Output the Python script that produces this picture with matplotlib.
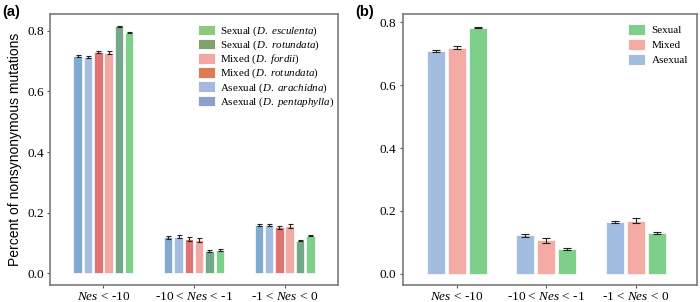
import numpy as np
from matplotlib import pyplot as plt
from matplotlib import patches

plt.rcParams['font.family'] = ['Liberation Serif', 'DejaVu Serif']
plt.rcParams['mathtext.fontset'] = 'custom'
plt.rcParams['mathtext.rm'] = 'Liberation Serif'
plt.rcParams['mathtext.it'] = 'Liberation Serif:italic'

# categories (x groups)
groups = ['$Nes$ < -10', '-10 < $Nes$ < -1', '-1 < $Nes$ < 0']

# panel (a): species-level values, bar order within group
a_labels = ['Asexual ($D.$ $pentaphylla$)', 'Asexual ($D.$ $arachidna$)',
            'Mixed ($D.$ $rotundata$)', 'Mixed ($D.$ $fordii$)',
            'Sexual ($D.$ $rotundata$)', 'Sexual ($D.$ $esculenta$)']
a_vals = [[0.716, 0.119, 0.160],
          [0.713, 0.121, 0.160],
          [0.730, 0.114, 0.152],
          [0.728, 0.110, 0.157],
          [0.814, 0.075, 0.108],
          [0.793, 0.078, 0.125]]
a_errs = [[0.004, 0.004, 0.003],
          [0.004, 0.005, 0.003],
          [0.004, 0.006, 0.005],
          [0.004, 0.006, 0.006],
          [0.002, 0.003, 0.002],
          [0.002, 0.003, 0.003]]
a_bar_colors = ['#7FAAD1', '#A3BDE0', '#E07474', '#F3A9A3', '#73A888', '#7DCF8A']
a_leg_colors = ['#8A9FCB', '#A3B9DE', '#E07A55', '#F0A8A0', '#84A06C', '#8DCB7A']

# panel (b): mating-system level
b_labels = ['Asexual', 'Mixed', 'Sexual']
b_vals = [[0.709, 0.122, 0.165],
          [0.720, 0.107, 0.169],
          [0.784, 0.080, 0.131]]
b_errs = [[0.004, 0.005, 0.004],
          [0.006, 0.008, 0.007],
          [0.002, 0.003, 0.003]]
b_colors = ['#A3BDE0', '#F3ABA3', '#7DCF8A']

yticks = [0.0, 0.2, 0.4, 0.6, 0.8]
ytick_labels = ['0.0', '0.2', '0.4', '0.6', '0.8']

fig = plt.figure(figsize=(7.0, 3.02), dpi=100)
ax1 = fig.add_axes([0.0714, 0.0563, 0.4115, 0.8973])
ax2 = fig.add_axes([0.5753, 0.0563, 0.4200, 0.8973])

x = np.arange(1, len(groups) + 1)


def style_axis(ax):
    for s in ax.spines.values():
        s.set_color('#7a7a7a')
        s.set_linewidth(1.2)
    ax.set_xticks(x)
    ax.set_xticklabels(groups, fontsize=9.5)
    ax.set_yticks(yticks)
    ax.set_yticklabels(ytick_labels, fontsize=9.5)
    ax.tick_params(axis='both', length=2.5, width=0.8, color='#555555', pad=2)


# panel (a)
w = 0.094
step = 0.114
for i in range(len(a_labels)):
    pos = x + (i - 2.5) * step
    ax1.bar(pos, a_vals[i], width=w, color=a_bar_colors[i], edgecolor='white', linewidth=0.5)
    ax1.errorbar(pos, a_vals[i], yerr=a_errs[i], fmt='none', ecolor='#222222',
                 elinewidth=0.8, capsize=1.8, capthick=0.8)
ax1.set_xlim(0.41, 3.59)
ax1.set_ylim(-0.038, 0.855)
style_axis(ax1)
ax1.set_ylabel('Percent of nonsynonymous mutations', fontsize=10,
               family=['Liberation Sans', 'DejaVu Sans'], labelpad=4)
handles = [patches.Patch(facecolor=c, edgecolor='white', linewidth=0.6) for c in a_leg_colors[::-1]]
ax1.legend(handles, a_labels[::-1], loc='upper left', bbox_to_anchor=(0.515, 0.96),
           frameon=False, fontsize=7.9, handlelength=1.52, handleheight=1.05,
           handletextpad=0.5, labelspacing=0.05, borderaxespad=0, borderpad=0)

# panel (b)
wb = 0.2
stepb = 0.235
for i in range(len(b_labels)):
    pos = x + (i - 1) * stepb
    ax2.bar(pos, b_vals[i], width=wb, color=b_colors[i], edgecolor='white', linewidth=0.5)
    ax2.errorbar(pos, b_vals[i], yerr=b_errs[i], fmt='none', ecolor='#222222',
                 elinewidth=0.8, capsize=3, capthick=0.8)
ax2.set_xlim(0.398, 3.677)
ax2.set_ylim(-0.036, 0.827)
style_axis(ax2)
handles = [patches.Patch(facecolor=c, edgecolor='white', linewidth=0.6) for c in b_colors[::-1]]
ax2.legend(handles, b_labels[::-1], loc='upper left', bbox_to_anchor=(0.765, 0.962),
           frameon=False, fontsize=8, handlelength=1.56, handleheight=1.1,
           handletextpad=0.6, labelspacing=0.35, borderaxespad=0, borderpad=0)

fig.text(0.003, 0.985, '(a)', fontsize=10.5, fontweight='bold', va='top',
         family=['Liberation Sans', 'DejaVu Sans'])
fig.text(0.508, 0.985, '(b)', fontsize=10.5, fontweight='bold', va='top',
         family=['Liberation Sans', 'DejaVu Sans'])

fig.savefig('out.png', dpi=100)
